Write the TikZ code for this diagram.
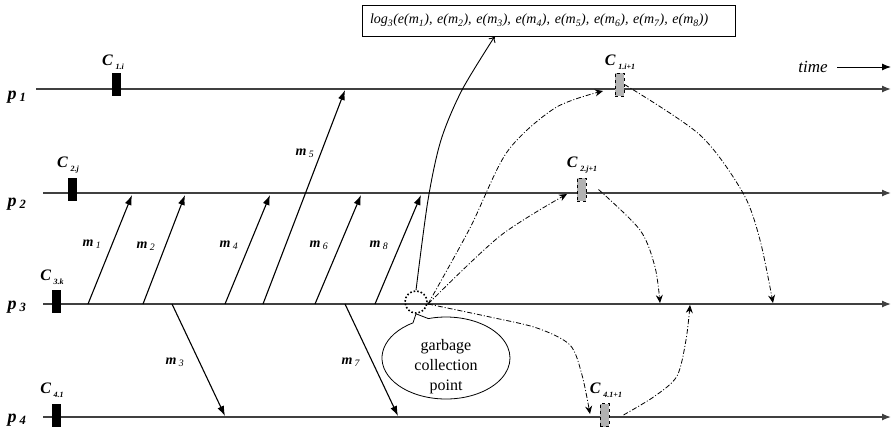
\documentclass[tikz,border=0pt]{standalone}
\usepackage{fontspec}
\setmainfont{Liberation Serif}
\usetikzlibrary{arrows.meta,shapes.callouts}

\newcommand{\proc}[1]{\textbf{\textit{p}}\,\textsubscript{\textbf{\textit{#1}}}}
\newcommand{\mlab}[1]{\textbf{\textit{m}}\,\textsubscript{\textit{#1}}}
\newcommand{\ck}[1]{\textbf{\textit{C}}\,{\fontsize{8}{9}\selectfont\raisebox{-4pt}{\textbf{\textit{#1}}}}}

\tikzset{
  procline/.style={draw=black!75, line width=1.3pt, -{Latex[length=9pt,width=7pt]}},
  msg/.style={line width=1.1pt, -{Latex[length=10pt,width=7pt]}},
  ctrl/.style={line width=0.8pt, dash pattern=on 5pt off 2pt on 1pt off 2pt, -{Stealth[length=8pt,width=7pt]}},
  ckold/.style={fill=black, minimum width=9pt, minimum height=23pt, inner sep=0pt},
  cknew/.style={fill=black!30, draw, dashed, line width=1pt, minimum width=9pt, minimum height=23pt, inner sep=0pt},
  lab/.style={font=\fontsize{14}{16}\selectfont},
  plab/.style={font=\fontsize{18}{20}\selectfont},
  clab/.style={font=\fontsize{16}{18}\selectfont},
}

\begin{document}
\begin{tikzpicture}[x=1pt,y=-1pt]
\useasboundingbox (0,0) rectangle (896,429);

% processes
\coordinate (p1s) at (36,89);  \coordinate (p1e) at (891,89);
\coordinate (p2s) at (43,193); \coordinate (p2e) at (891,193);
\coordinate (p3s) at (43,304); \coordinate (p3e) at (891,304);
\coordinate (p4s) at (43,417); \coordinate (p4e) at (891,417);
\foreach \i in {1,...,4}
  \draw[procline] (p\i s) -- (p\i e);
\node[plab] (lp1) at (17,97) {\proc{1}};
\node[plab] (lp2) at (17,204) {\proc{2}};
\node[plab] (lp3) at (17,307) {\proc{3}};
\node[plab] (lp4) at (17,420) {\proc{4}};

% time
\node[font=\itshape\fontsize{17}{19}\selectfont] (time) at (813,67) {time};
\coordinate (timeend) at (891,67);
\draw[line width=1pt, -{Latex[length=9pt,width=7pt]}] ([xshift=6pt]time.east) -- (timeend);

% old checkpoints
\node[ckold] (c1) at (116.5,84.5) {};
\node[ckold] (c2) at (72.5,189) {};
\node[ckold] (c3) at (56.5,301) {};
\node[ckold] (c4) at (56.5,415) {};
\node[clab] (lc1) at (113,62) {\ck{1.i}};
\node[clab] (lc2) at (68,165) {\ck{2.j}};
\node[clab] (lc3) at (52,277) {\ck{3.k}};
\node[clab] (lc4) at (52,390) {\ck{4.1}};

% new checkpoints
\node[cknew] (n1) at (619.5,84.5) {};
\node[cknew] (n2) at (581.5,189.5) {};
\node[cknew] (n4) at (604.5,415) {};
\node[clab] (ln1) at (620,62) {\ck{1.i+1}};
\node[clab] (ln2) at (582,165) {\ck{2.j+1}};
\node[clab] (ln4) at (606,390) {\ck{4.1+1}};

% messages
\coordinate (s1) at (88,304);  \coordinate (r1) at (132,195);
\coordinate (s2) at (143,304); \coordinate (r2) at (185,195);
\coordinate (s3) at (172,304); \coordinate (r3) at (225,416);
\coordinate (s4) at (225,304); \coordinate (r4) at (270,195);
\coordinate (s5) at (263,304); \coordinate (r5) at (345,90);
\coordinate (s6) at (315,304); \coordinate (r6) at (361,195);
\coordinate (s7) at (345,304); \coordinate (r7) at (398,416);
\coordinate (s8) at (375,304); \coordinate (r8) at (421,195);
\foreach \i in {1,...,8}
  \draw[msg] (s\i) -- (r\i);
\node[lab] (lm1) at (92,244) {\mlab{1}};
\node[lab] (lm2) at (146,246) {\mlab{2}};
\node[lab] (lm3) at (175,362) {\mlab{3}};
\node[lab] (lm4) at (229,245) {\mlab{4}};
\node[lab] (lm5) at (305,153) {\mlab{5}};
\node[lab] (lm6) at (319,245) {\mlab{6}};
\node[lab] (lm7) at (351,362) {\mlab{7}};
\node[lab] (lm8) at (379,245) {\mlab{8}};

% log box
\node[draw, line width=1pt, minimum height=31pt, text width=357pt, inner xsep=8pt, align=left,
  font=\itshape\fontsize{14}{16}\selectfont] (logbox) at (548.5,20.5)
  {log\textsubscript{3}(e(m\textsubscript{1}), e(m\textsubscript{2}), e(m\textsubscript{3}), e(m\textsubscript{4}), e(m\textsubscript{5}), e(m\textsubscript{6}), e(m\textsubscript{7}), e(m\textsubscript{8}))};

% garbage collection point
\node[circle, draw, dotted, line width=1.6pt, minimum size=22pt, inner sep=0pt] (gc) at (416,302) {};
\node[ellipse callout, draw, line width=0.8pt, minimum width=128pt, minimum height=82pt,
  callout absolute pointer={(gc.south)}] (bubble) at (446,358) {};
\node[align=center, font=\fontsize{16}{20}\selectfont] (gctext) at (446,367) {garbage\\collection\\point};
\coordinate (login) at (495,36);
\draw[line width=0.9pt, -{To[length=6pt,width=8pt]}] plot[smooth] coordinates {(gc.north) (428,200) (441,140) (462,90) (login)};

% control messages
\coordinate (gcr) at (428,304);
\coordinate (a1) at (603,91);
\coordinate (a2) at (567,194);
\coordinate (a4) at (590,414);
\draw[ctrl] plot[smooth] coordinates {(gcr) (470,228) (507,152) (555,108) (a1)};
\draw[ctrl] plot[smooth] coordinates {(gcr) (500,236) (a2)};
\draw[ctrl] plot[smooth] coordinates {(gcr) (490,317) (537,328) (570,345) (582,375) (a4)};
\coordinate (b1) at (773,303);
\coordinate (b2) at (660,303);
\coordinate (b4) at (690,305);
\draw[ctrl] plot[smooth] coordinates {(n1.east) (700,135) (743,193) (760,240) (b1)};
\draw[ctrl] plot[smooth] coordinates {([xshift=12pt]n2.east) (640,230) (655,267) (b2)};
\draw[ctrl] plot[smooth] coordinates {([xshift=14pt]n4.east) (655,396) (677,376) (686,340) (b4)};
\end{tikzpicture}
\end{document}
